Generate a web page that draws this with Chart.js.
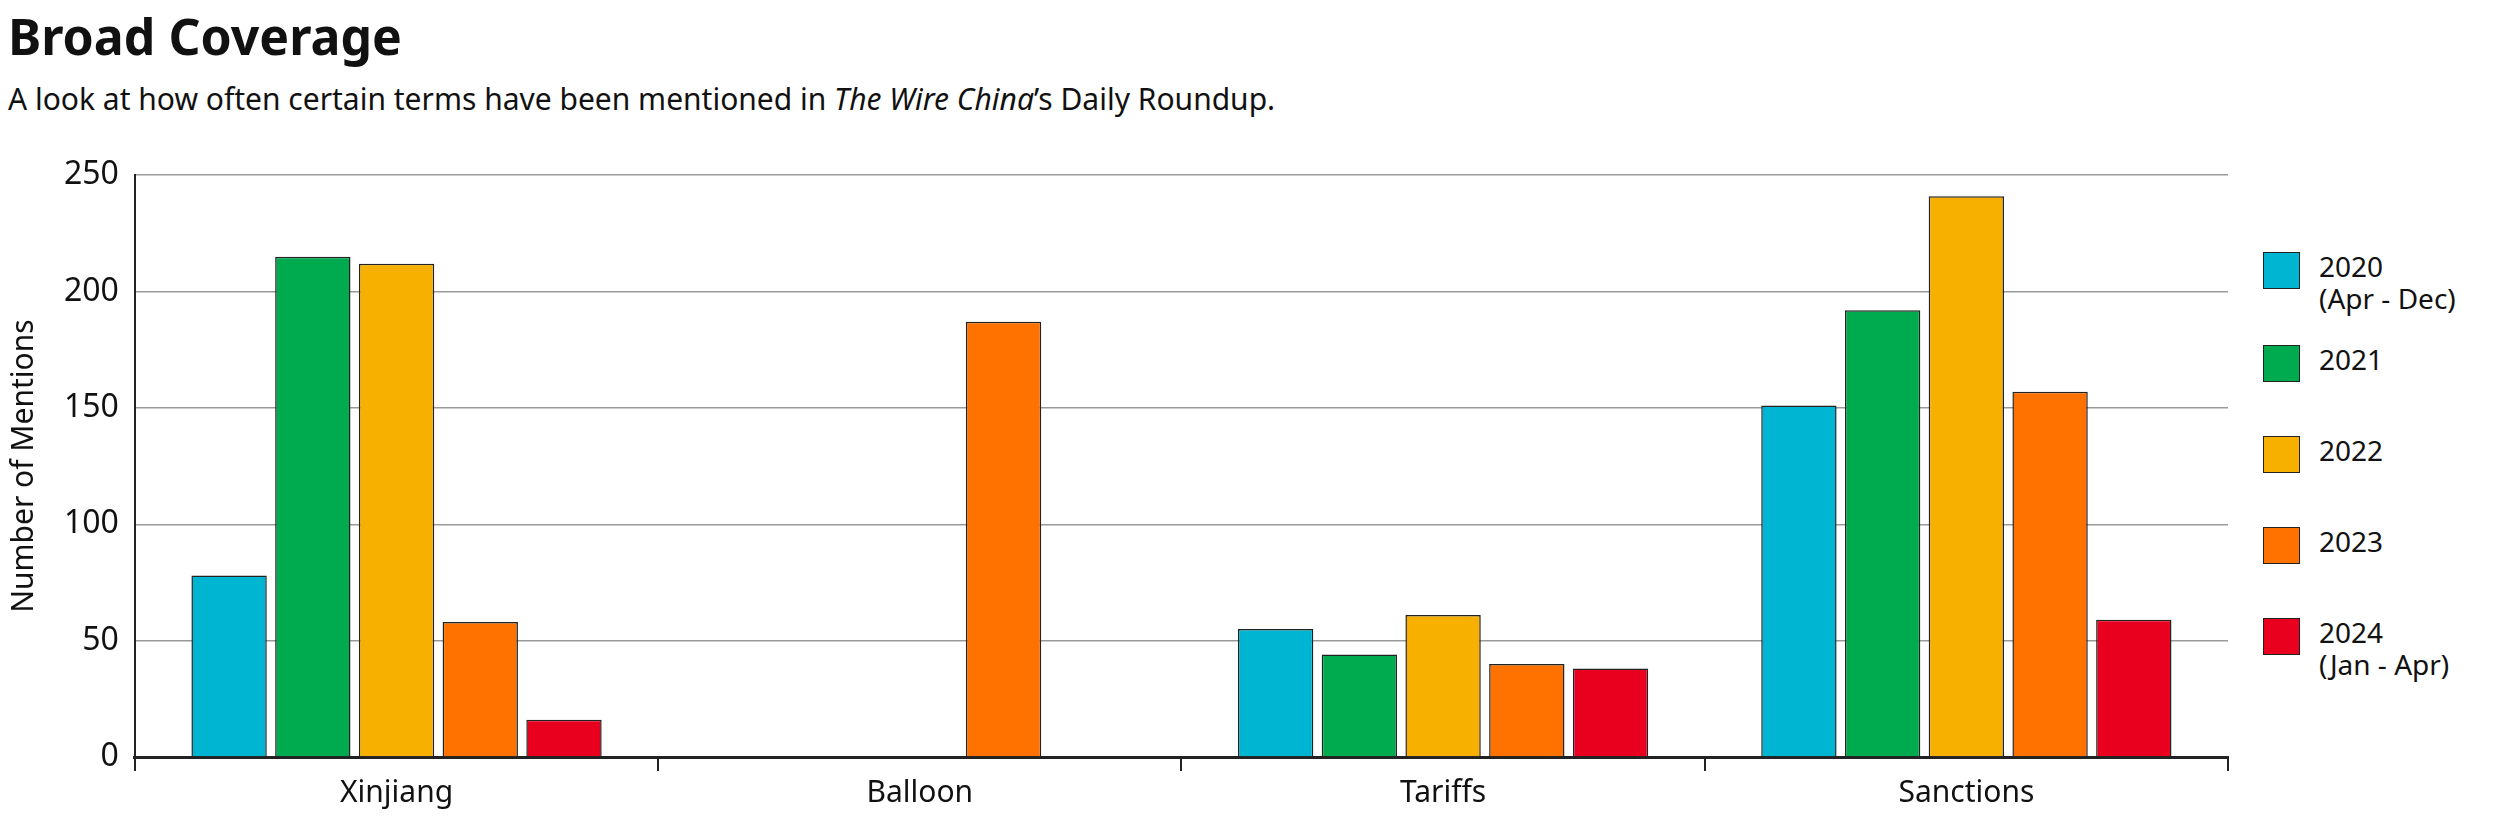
<!DOCTYPE html>
<html>
<head>
<meta charset="utf-8">
<script src="https://cdn.jsdelivr.net/npm/chart.js@4"></script>
<style>
  body { margin: 0; width: 2494px; height: 825px; background: #fff; font-family: "Noto Sans", sans-serif; position: relative; overflow: hidden; }
  h1 { position: absolute; left: 8px; top: 2px; margin: 0; font-size: 50px; font-weight: 700; color: #111; }
  .sub { position: absolute; left: 8px; top: 78px; margin: 0; font-size: 30px; color: #111; }
  #wrap { position: absolute; left: 0; top: 140px; width: 2240px; height: 685px; }
  .leg { position: absolute; left: 2263px; font-size: 28px; color: #111; line-height: 32px; }
  .leg span.box { position: absolute; left: 0; top: 0; width: 35px; height: 35px; border: 1px solid #222; }
  .leg span.txt { position: absolute; left: 56px; top: -2px; white-space: nowrap; }
</style>
</head>
<body>
<h1>Broad Coverage</h1>
<p class="sub">A look at how often certain terms have been mentioned in <i>The Wire China</i>’s Daily Roundup.</p>
<div id="wrap"><canvas id="chart"></canvas></div>
<div id="legend"></div>
<script>
const categories = ["Xinjiang", "Balloon", "Tariffs", "Sanctions"];
const seriesNames = ["2020", "2021", "2022", "2023", "2024"];
const legendLabels = [["2020", "(Apr - Dec)"], ["2021"], ["2022"], ["2023"], ["2024", "(Jan - Apr)"]];
const colors = ["#00b5d1", "#00ab4f", "#f7b000", "#ff7200", "#e9001f"];
const v2020 = [78, 0, 55, 151];
const v2021 = [215, 0, 44, 192];
const v2022 = [212, 0, 61, 241];
const v2023 = [58, 187, 40, 157];
const v2024 = [16, 0, 38, 59];
const yTicks = [0, 50, 100, 150, 200, 250];

const allValues = [v2020, v2021, v2022, v2023, v2024];

// html legend
const legendTops = [252, 345, 436, 527, 618];
const legend = document.getElementById("legend");
legendLabels.forEach((lines, i) => {
  const d = document.createElement("div");
  d.className = "leg";
  d.style.top = legendTops[i] + "px";
  d.innerHTML = `<span class="box" style="background:${colors[i]}"></span><span class="txt">${lines.join("<br>")}</span>`;
  legend.appendChild(d);
});

new Chart(document.getElementById("chart"), {
  type: "bar",
  data: {
    labels: categories,
    datasets: seriesNames.map((name, i) => ({
      label: name,
      data: allValues[i],
      backgroundColor: colors[i],
      borderColor: "#222",
      borderWidth: 1.5,
      barPercentage: 0.9,
      categoryPercentage: 0.8
    }))
  },
  options: {
    responsive: true,
    maintainAspectRatio: false,
    animation: false,
    layout: { padding: { top: 12, right: 12, bottom: 10, left: 0 } },
    plugins: { legend: { display: false }, tooltip: { enabled: false } },
    scales: {
      x: {
        grid: { offset: true, drawOnChartArea: false, color: "#222", lineWidth: 2, tickLength: 14 },
        border: { color: "#222", width: 3 },
        ticks: { color: "#111", font: { family: "Noto Sans", size: 30 }, padding: 4 }
      },
      y: {
        min: 0, max: 250,
        afterBuildTicks: axis => { axis.ticks = yTicks.map(v => ({ value: v })); },
        grid: { color: "#999", lineWidth: 1.5, drawTicks: false },
        border: { color: "#222", width: 2 },
        ticks: { color: "#111", font: { family: "Noto Sans", size: 32 }, padding: 16 },
        title: { display: true, text: "Number of Mentions", color: "#111", font: { family: "Noto Sans", size: 30 }, padding: 6 }
      }
    }
  }
});
</script>
</body>
</html>
